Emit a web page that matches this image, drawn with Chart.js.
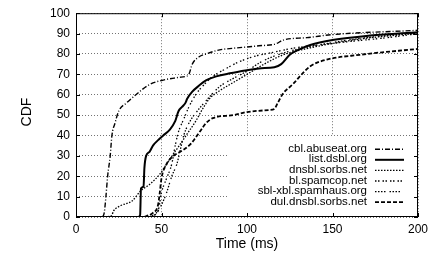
<!DOCTYPE html>
<html>
<head>
<meta charset="utf-8">
<script src="https://cdn.jsdelivr.net/npm/chart.js@4"></script>
<style>
  html, body { margin: 0; padding: 0; background: #fff; }
  #wrap { width: 439px; height: 254px; }
</style>
</head>
<body>
<div id="wrap"><canvas id="cdfChart" width="439" height="254"></canvas></div>
<script>
// values (time in ms, CDF in %)
const seriesNames = ['cbl.abuseat.org', 'list.dsbl.org', 'dnsbl.sorbs.net', 'bl.spamcop.net', 'sbl-xbl.spamhaus.org', 'dul.dnsbl.sorbs.net'];

const cblTime = [15.5, 16.5, 17.5, 18.5, 20, 21, 22.8, 25, 29.6, 35, 43, 50, 60, 64, 66, 68, 72, 76, 84, 92, 107, 117, 121, 135, 150, 200];
const cblCdf = [0, 2, 10, 20, 30, 40, 46, 52, 56, 60, 65, 67, 68.5, 69, 70, 75, 78.6, 80, 82, 82.8, 84, 85, 86.8, 88, 89.5, 91.6];

const dsblTime = [36.3, 37.5, 38, 39.5, 40, 41, 43, 45, 49, 51, 55, 58, 60, 62, 64, 65, 68, 72, 76, 82, 90, 100, 107, 116, 120, 125, 130, 137, 150, 172, 200];
const dsblCdf = [0, 1, 14, 15, 24, 30, 32, 35, 38.5, 40, 43, 47, 52, 54, 56, 58, 61.5, 64.5, 67, 69, 70.5, 72, 72.9, 73.5, 75, 79.6, 82, 84.4, 86.8, 89, 90.7];

const sorbsTime = [8, 20, 21, 22, 26, 33, 38, 43, 49, 53, 57, 62, 66, 70, 74, 78, 84, 92, 100, 110, 121, 137, 166, 200];
const sorbsCdf = [0, 0.3, 1, 3, 5.5, 8, 13, 16, 21, 26, 31, 37, 42, 47, 53, 58, 62, 66, 70, 75, 79.5, 83, 87.3, 90.2];

const spamcopTime = [40, 44, 48, 50, 53, 56, 58, 60, 63, 66, 70, 75, 80, 86, 95, 105, 113, 127, 150, 185, 200];
const spamcopCdf = [0, 0.5, 3, 12, 19, 26, 35, 42, 48, 54, 60, 65, 69, 72, 76, 79, 80.4, 82.8, 85.2, 88.3, 90];

const spamhausTime = [44, 47, 50, 53, 56, 59, 61, 63, 66, 70, 76, 84, 92, 100, 108, 121, 137, 166, 200];
const spamhausCdf = [0, 2, 6, 12, 20, 26, 33, 40, 46, 51, 57, 64, 68, 71.6, 76, 80.4, 83.6, 87.6, 90.4];

const dulTime = [40, 41.3, 45, 48, 49, 50, 53, 57, 61, 66.7, 70, 72.5, 76, 80, 92, 100, 113, 116, 118, 121, 127, 132, 137, 146.6, 166, 200];
const dulCdf = [0, 0.5, 2, 6, 12, 19, 26, 30, 32, 35.5, 39, 42, 46, 48.5, 50, 51.5, 52.5, 53, 56, 60.5, 65.3, 70, 74, 77.2, 79.6, 82.5];

const timeTicks = [0, 50, 100, 150, 200];
const cdfTicks = [0, 10, 20, 30, 40, 50, 60, 70, 80, 90, 100];

const allTimes = [cblTime, dsblTime, sorbsTime, spamcopTime, spamhausTime, dulTime];
const allCdfs = [cblCdf, dsblCdf, sorbsCdf, spamcopCdf, spamhausCdf, dulCdf];
const lineDashes = [[5, 2, 1, 2], [], [1.5, 1.5], [1.5, 1.5, 1.5, 3], [1.5, 1.5, 1.5, 1.5, 1.5, 1.5, 1.5, 4], [4, 2]];
const lineWidths = [1.4, 2, 1.3, 1.3, 1.3, 1.8];

const datasets = seriesNames.map((name, i) => ({
  label: name,
  data: allTimes[i].map((t, j) => ({ x: t, y: allCdfs[i][j] })),
  borderColor: '#000',
  borderWidth: lineWidths[i],
  borderDash: lineDashes[i],
  pointRadius: 0,
  fill: false,
  cubicInterpolationMode: 'monotone',
}));

const FONT = '"Liberation Sans", Arial, Helvetica, sans-serif';

// gnuplot-like key, frame, inward tics and axis titles
const gnuplotFrame = {
  id: 'gnuplotFrame',
  afterDatasetsDraw(chart) {
    const ctx = chart.ctx;
    const area = chart.chartArea;
    const xs = chart.scales.x;
    const ys = chart.scales.y;

    // key box
    ctx.save();
    ctx.fillStyle = '#fff';
    ctx.fillRect(228, 136, area.right - 228 - 1, area.bottom - 136 - 1);
    ctx.font = '11.5px ' + FONT;
    ctx.fillStyle = '#000';
    ctx.textAlign = 'right';
    ctx.textBaseline = 'middle';
    chart.data.datasets.forEach((ds, i) => {
      const y = 148.7 + i * 10.6;
      ctx.fillText(ds.label, 367, y);
      ctx.beginPath();
      ctx.setLineDash(ds.borderDash);
      ctx.lineWidth = ds.borderWidth;
      ctx.strokeStyle = '#000';
      ctx.moveTo(375, y + 0.5);
      ctx.lineTo(404, y + 0.5);
      ctx.stroke();
    });
    ctx.restore();

    // border and inward tics on all four sides
    ctx.save();
    ctx.setLineDash([]);
    ctx.strokeStyle = '#000';
    ctx.lineWidth = 1;
    ctx.strokeRect(area.left + 0.5, area.top + 0.5, area.right - area.left - 1, area.bottom - area.top - 1);
    ctx.beginPath();
    cdfTicks.forEach((v) => {
      const y = Math.round(ys.getPixelForValue(v)) + 0.5;
      ctx.moveTo(area.left, y);
      ctx.lineTo(area.left + 4, y);
      ctx.moveTo(area.right, y);
      ctx.lineTo(area.right - 4, y);
    });
    timeTicks.forEach((v) => {
      const x = Math.round(xs.getPixelForValue(v)) + 0.5;
      ctx.moveTo(x, area.bottom);
      ctx.lineTo(x, area.bottom - 4);
      ctx.moveTo(x, area.top);
      ctx.lineTo(x, area.top + 4);
    });
    ctx.stroke();

    // axis titles
    ctx.fillStyle = '#000';
    ctx.font = '14px ' + FONT;
    ctx.textAlign = 'center';
    ctx.textBaseline = 'middle';
    ctx.fillText('Time (ms)', 247, 244);
    ctx.translate(27, 112);
    ctx.rotate(-Math.PI / 2);
    ctx.fillText('CDF', 0, 0);
    ctx.restore();
  },
};

const ctx = document.getElementById('cdfChart').getContext('2d');
new Chart(ctx, {
  type: 'line',
  data: { datasets: datasets },
  options: {
    responsive: false,
    animation: false,
    devicePixelRatio: 1,
    layout: { padding: { top: 7, right: 21, left: 0, bottom: 0 } },
    plugins: {
      legend: { display: false },
      tooltip: { enabled: false },
    },
    scales: {
      x: {
        type: 'linear',
        min: 0,
        max: 200,
        afterFit: (scale) => { scale.height = 37; },
        afterBuildTicks: (scale) => { scale.ticks = timeTicks.map((v) => ({ value: v })); },
        ticks: { padding: 5, color: '#000', font: { family: FONT, size: 12 }, maxRotation: 0 },
        grid: { color: 'rgba(0,0,0,0.55)', lineWidth: 1, drawTicks: false },
        border: { display: false, dash: [1, 2] },
      },
      y: {
        min: 0,
        max: 100,
        afterFit: (scale) => { scale.width = 76; },
        afterBuildTicks: (scale) => { scale.ticks = cdfTicks.map((v) => ({ value: v })); },
        ticks: { padding: 6, color: '#000', font: { family: FONT, size: 12 } },
        grid: { color: 'rgba(0,0,0,0.55)', lineWidth: 1, drawTicks: false },
        border: { display: false, dash: [1, 2] },
      },
    },
  },
  plugins: [gnuplotFrame],
});
</script>
</body>
</html>
